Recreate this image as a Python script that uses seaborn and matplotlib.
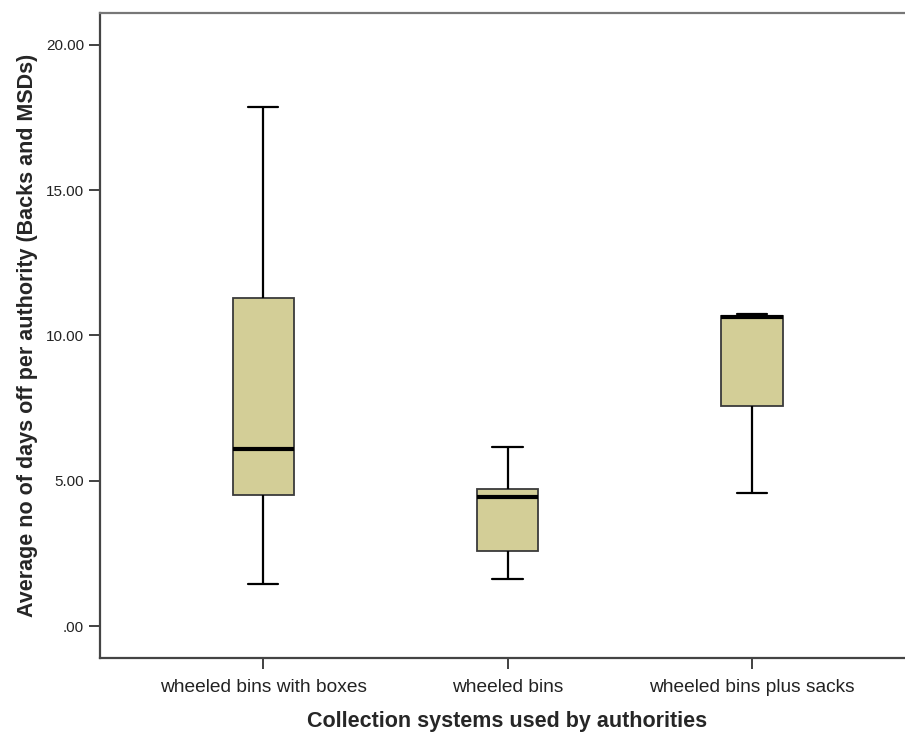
import numpy as np
import pandas as pd
import matplotlib
matplotlib.use("Agg")
import matplotlib.pyplot as plt
import seaborn as sb

#%% Daten (Fünf-Punkte-Zusammenfassung pro Gruppe: min, Q1, Median, Q3, max)

categories = ["wheeled bins with boxes", "wheeled bins", "wheeled bins plus sacks"]
boxes_vals = [1.43, 4.51, 6.09, 11.28, 17.84]
bins_vals = [1.62, 2.59, 4.45, 4.70, 6.17]
sacks_vals = [4.57, 7.58, 10.62, 10.67, 10.73]
y_ticks = [0, 5, 10, 15, 20]
y_ticklabels = [".00", "5.00", "10.00", "15.00", "20.00"]

df = pd.DataFrame({
    "system": np.repeat(categories, 5),
    "days": boxes_vals + bins_vals + sacks_vals,
})

#%% Plot

sb.set_style("white")
plt.rcParams['font.family'] = ['Liberation Sans', 'DejaVu Sans']

fig = plt.figure(figsize=(9.05, 7.33), dpi=100)
ax = fig.add_axes([0.1105, 0.1019, 0.9006, 0.880])

sb.boxplot(data=df, x="system", y="days", order=categories, ax=ax,
           color="#D3CE97", saturation=1, width=0.25, whis=np.inf,
           linewidth=1.3, linecolor="black",
           boxprops=dict(edgecolor="#3a3a3a", linewidth=1.3),
           medianprops=dict(color="black", linewidth=3),
           whiskerprops=dict(color="black", linewidth=1.6),
           capprops=dict(color="black", linewidth=1.6))

ax.set_xlim(-0.667, 2.667)
ax.set_ylim(-1.11, 21.08)
ax.set_yticks(y_ticks)
ax.set_yticklabels(y_ticklabels)

ax.tick_params(axis="both", direction="out", length=8, width=1.3, color="#333333",
               left=True, bottom=True, labelsize=11, labelcolor="#222222")
ax.tick_params(axis="x", labelsize=13.8, pad=7)

for side in ["left", "bottom", "top"]:
    ax.spines[side].set_color("#444444")
    ax.spines[side].set_linewidth(1.6)
ax.spines["right"].set_visible(False)
ax.spines["top"].set_color("#777777")

ax.set_xlabel("Collection systems used by authorities", fontsize=15.5, fontweight="bold", labelpad=11)
ax.set_ylabel("Average no of days off per authority (Backs and MSDs)", fontsize=15.5,
              fontweight="bold", labelpad=6)

plt.savefig("out.png", dpi=100)
